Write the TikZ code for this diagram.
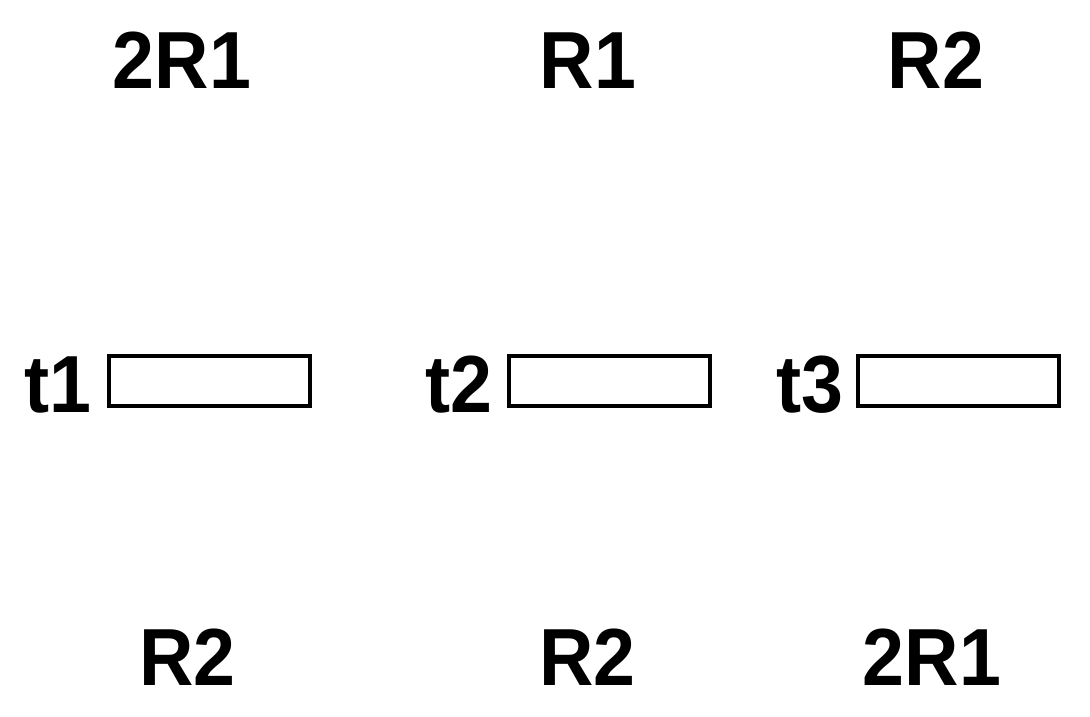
\documentclass[tikz,border=0pt]{standalone}
\usepackage{fontspec}
\setmainfont[FakeStretch=0.93]{Liberation Sans}
\begin{document}
\begin{tikzpicture}[x=1pt,y=-1pt,
  lbl/.style={inner sep=0pt,anchor=base,font=\fontsize{81}{90}\selectfont\bfseries},
  bar/.style={draw=black,line width=4pt,minimum width=201pt,minimum height=50pt,inner sep=0pt}]
\useasboundingbox (0,0) rectangle (1090,716);
% top labels
\node[lbl] (a1) at (182,88) {2R1};
\node[lbl] (a2) at (588,88) {R1};
\node[lbl] (a3) at (936,88) {R2};
% middle
\node[lbl] (t1) at (58,412) {t1};
\node[lbl] (t2) at (459,412) {t2};
\node[lbl] (t3) at (810,412) {t3};
\node[bar] (r1) at (209.5,381) {};
\node[bar] (r2) at (609,381) {};
\node[bar] (r3) at (958,381) {};
% bottom labels
\node[lbl] (b1) at (187.5,685) {R2};
\node[lbl] (b2) at (587.5,685) {R2};
\node[lbl] (b3) at (932,685) {2R1};
\end{tikzpicture}
\end{document}
